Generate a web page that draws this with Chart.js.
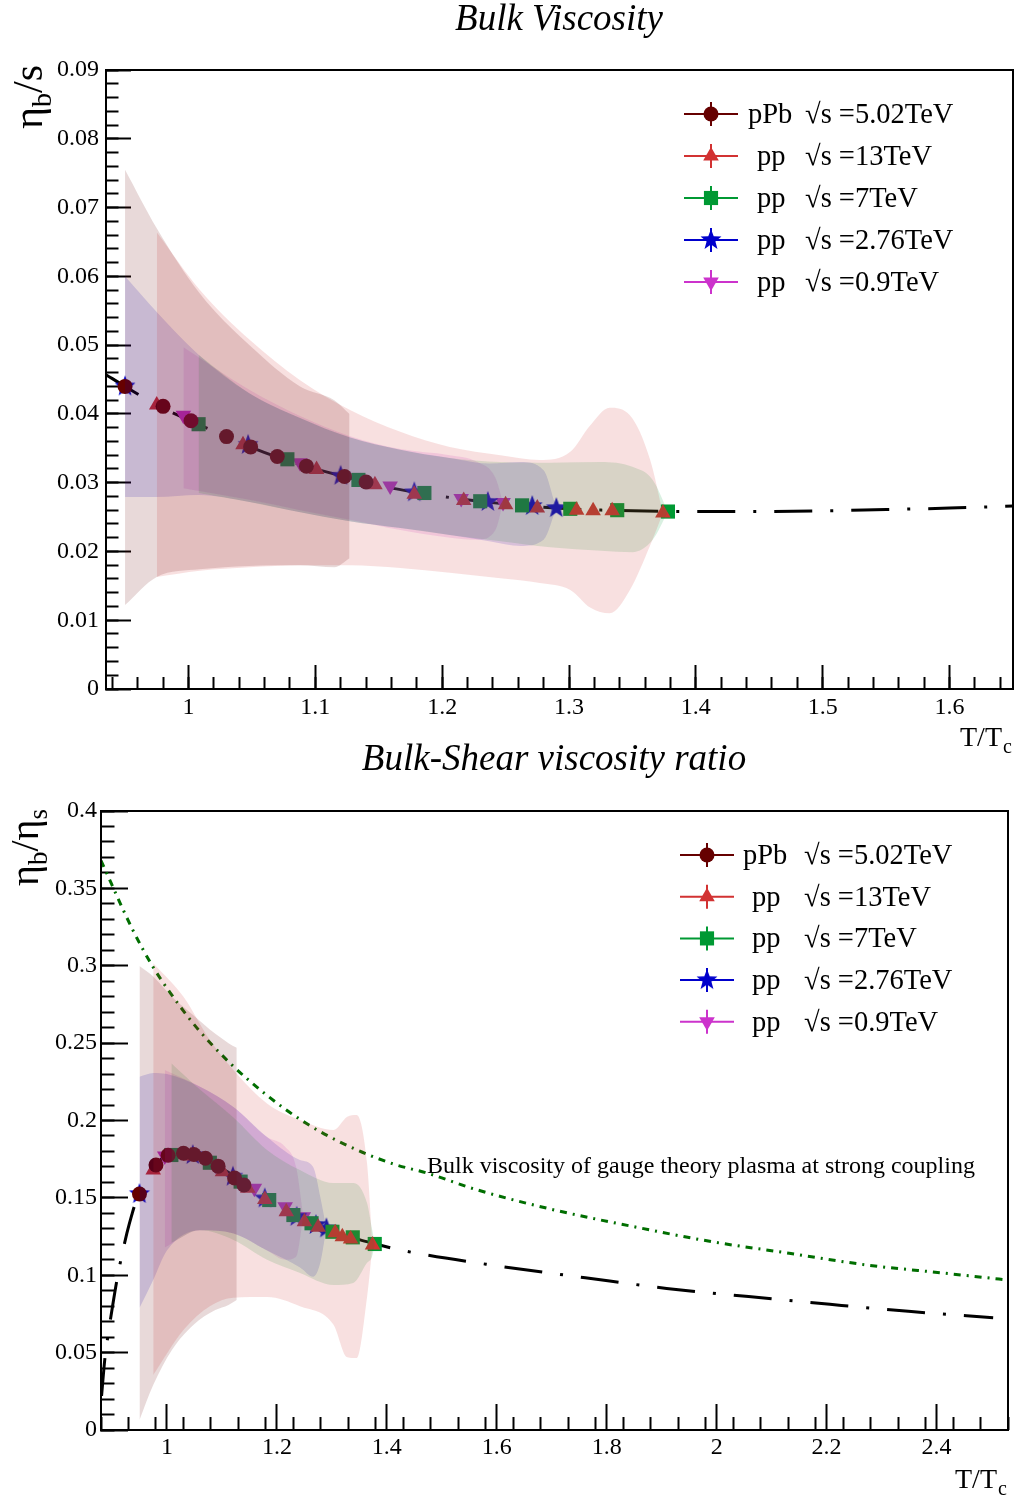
<!DOCTYPE html>
<html>
<head>
<meta charset="utf-8">
<script src="https://cdn.jsdelivr.net/npm/chart.js@4.4.1/dist/chart.umd.min.js"></script>
<style>
  body { margin: 0; background: #fff; overflow: hidden; }
  #wrap { position: relative; width: 1016px; height: 1499px; }
  canvas { position: absolute; left: 0; }
  #c1 { top: 0; }
  #c2 { top: 738px; }
</style>
</head>
<body>
<div id="wrap">
  <canvas id="c1" width="1016" height="760"></canvas>
  <canvas id="c2" width="1016" height="761"></canvas>
</div>
<script>
// legend texts
const seriesNames = ['pPb', 'pp', 'pp', 'pp', 'pp'];
const seriesEnergies = ['√s =5.02TeV', '√s =13TeV', '√s =7TeV', '√s =2.76TeV', '√s =0.9TeV'];

// T/Tc of the points of each data set
const tPPb  = [0.950, 0.980, 1.002, 1.030, 1.049, 1.070, 1.093, 1.123, 1.140];
const tPP13 = [0.975, 1.043, 1.101, 1.147, 1.178, 1.217, 1.250, 1.275, 1.306, 1.319, 1.334, 1.374];
const tPP7  = [1.008, 1.078, 1.134, 1.186, 1.230, 1.263, 1.301, 1.338, 1.378];
const tPP276 = [0.950, 1.047, 1.120, 1.178, 1.236, 1.271, 1.290];
const tPP09 = [0.996, 1.088, 1.159, 1.215, 1.248];

// eta_b/s (top panel)
const bsPPb  = [0.0440, 0.0411, 0.0390, 0.0367, 0.0352, 0.0338, 0.0324, 0.0309, 0.0301];
const bsPP13 = [0.0413, 0.0355, 0.0319, 0.0297, 0.0283, 0.0274, 0.0268, 0.0263, 0.0260, 0.0259, 0.0259, 0.0256];
const bsPP7  = [0.0385, 0.0334, 0.0304, 0.0285, 0.0273, 0.0267, 0.0262, 0.0260, 0.0258];
const bsPP276 = [0.0440, 0.0355, 0.0310, 0.0286, 0.0272, 0.0266, 0.0263];
const bsPP09 = [0.0398, 0.0329, 0.0295, 0.0277, 0.0271];

// eta_b/eta_s (bottom panel)
const rPPb  = [0.1525, 0.1712, 0.1775, 0.1788, 0.1780, 0.1756, 0.1705, 0.1628, 0.1583];
const rPP13 = [0.1680, 0.1770, 0.1669, 0.1562, 0.1490, 0.1411, 0.1346, 0.1310, 0.1275, 0.1249, 0.1235, 0.1195];
const rPP7  = [0.1777, 0.1727, 0.1605, 0.1486, 0.1389, 0.1336, 0.1281, 0.1245, 0.1202];
const rPP276 = [0.1525, 0.1777, 0.1637, 0.1497, 0.1378, 0.1325, 0.1303];
const rPP09 = [0.1771, 0.1712, 0.1562, 0.1443, 0.1378];

// error bands, top panel
const bsBandPPbT  = [0.950, 0.975, 1.009, 1.048, 1.088, 1.115, 1.127];
const bsBandPPbLo = [0.0122, 0.0163, 0.0174, 0.0179, 0.0180, 0.0177, 0.0190];
const bsBandPPbHi = [0.0755, 0.0670, 0.0575, 0.0500, 0.0440, 0.0420, 0.0400];
const bsBand13T  = [0.975, 1.009, 1.048, 1.088, 1.127, 1.167, 1.206, 1.246, 1.277, 1.301, 1.317, 1.332, 1.348, 1.364, 1.374];
const bsBand13Lo = [0.0163, 0.0172, 0.0177, 0.0180, 0.0180, 0.0176, 0.0169, 0.0161, 0.0154, 0.0144, 0.0118, 0.0110, 0.0144, 0.0209, 0.0256];
const bsBand13Hi = [0.0664, 0.0580, 0.0508, 0.0449, 0.0406, 0.0374, 0.0352, 0.0340, 0.0333, 0.0345, 0.0384, 0.0409, 0.0398, 0.0333, 0.0256];
const bsBand7T  = [1.008, 1.048, 1.088, 1.127, 1.167, 1.206, 1.246, 1.285, 1.325, 1.350, 1.366, 1.378];
const bsBand7Lo = [0.0285, 0.0272, 0.0257, 0.0244, 0.0234, 0.0224, 0.0215, 0.0206, 0.0201, 0.0199, 0.0217, 0.0258];
const bsBand7Hi = [0.0486, 0.0430, 0.0394, 0.0366, 0.0348, 0.0336, 0.0330, 0.0329, 0.0330, 0.0323, 0.0304, 0.0258];
const bsBand276T  = [0.950, 0.975, 1.008, 1.048, 1.088, 1.127, 1.167, 1.206, 1.237, 1.262, 1.280, 1.290];
const bsBand276Lo = [0.0279, 0.0279, 0.0282, 0.0272, 0.0257, 0.0244, 0.0234, 0.0224, 0.0215, 0.0208, 0.0217, 0.0263];
const bsBand276Hi = [0.0600, 0.0548, 0.0486, 0.0430, 0.0394, 0.0366, 0.0348, 0.0336, 0.0328, 0.0330, 0.0318, 0.0263];
const bsBand09T  = [0.996, 1.048, 1.088, 1.127, 1.167, 1.206, 1.228, 1.242, 1.248];
const bsBand09Lo = [0.0292, 0.0275, 0.0260, 0.0246, 0.0231, 0.0220, 0.0217, 0.0231, 0.0271];
const bsBand09Hi = [0.0497, 0.0435, 0.0397, 0.0368, 0.0349, 0.0340, 0.0330, 0.0307, 0.0271];

// error bands, bottom panel
const rBandPPbT  = [0.950, 0.975, 1.009, 1.048, 1.088, 1.112, 1.127];
const rBandPPbLo = [0.0065, 0.0290, 0.0517, 0.0679, 0.0775, 0.0808, 0.0840];
const rBandPPbHi = [0.2998, 0.2930, 0.2800, 0.2680, 0.2560, 0.2500, 0.2470];
const rBand13T  = [0.975, 1.030, 1.078, 1.121, 1.182, 1.242, 1.303, 1.328, 1.345, 1.364, 1.374];
const rBand13Lo = [0.0355, 0.0646, 0.0800, 0.0855, 0.0860, 0.0800, 0.0680, 0.0470, 0.0465, 0.0860, 0.1195];
const rBand13Hi = [0.3016, 0.2800, 0.2520, 0.2326, 0.2110, 0.2003, 0.1939, 0.2025, 0.2036, 0.1723, 0.1195];
const rBand7T  = [1.008, 1.060, 1.121, 1.182, 1.242, 1.303, 1.339, 1.364, 1.373, 1.378];
const rBand7Lo = [0.1210, 0.1290, 0.1228, 0.1100, 0.1015, 0.0937, 0.0950, 0.1080, 0.1120, 0.1202];
const rBand7Hi = [0.2370, 0.2200, 0.2020, 0.1810, 0.1680, 0.1596, 0.1596, 0.1467, 0.1300, 0.1202];
const rBand276T  = [0.950, 0.975, 1.000, 1.060, 1.121, 1.182, 1.242, 1.266, 1.279, 1.290];
const rBand276Lo = [0.0788, 0.0970, 0.1160, 0.1290, 0.1270, 0.1160, 0.1050, 0.0990, 0.1080, 0.1303];
const rBand276Hi = [0.2283, 0.2307, 0.2300, 0.2218, 0.2087, 0.1893, 0.1745, 0.1700, 0.1506, 0.1303];
const rBand09T  = [0.996, 1.060, 1.121, 1.182, 1.215, 1.235, 1.248];
const rBand09Lo = [0.1180, 0.1290, 0.1270, 0.1160, 0.1100, 0.1120, 0.1378];
const rBand09Hi = [0.2326, 0.2220, 0.2087, 0.1893, 0.1830, 0.1700, 0.1378];

// fit curves
const bsFitT = [0.935, 0.95, 0.975, 1.0, 1.025, 1.05, 1.075, 1.1, 1.125, 1.15, 1.2, 1.25, 1.3, 1.35, 1.4, 1.45, 1.5, 1.55, 1.6, 1.65];
const bsFit  = [0.0457, 0.0440, 0.0413, 0.0391, 0.0371, 0.0351, 0.0334, 0.0320, 0.0308, 0.0296, 0.0280, 0.0269, 0.0262, 0.0259, 0.0258, 0.0258, 0.0259, 0.0261, 0.0263, 0.0266];
const rFitT = [0.881, 0.887, 0.894, 0.901, 0.909, 0.918, 0.927, 0.936, 0.945, 0.951, 0.966, 0.980, 1.0, 1.03, 1.05, 1.1, 1.15, 1.2, 1.25, 1.3, 1.35, 1.38, 1.424, 1.612, 1.761, 1.909, 2.058, 2.206, 2.354, 2.503];
const rFit  = [0.022, 0.046, 0.064, 0.080, 0.097, 0.113, 0.127, 0.139, 0.149, 0.1525, 0.1626, 0.1712, 0.1775, 0.1788, 0.1777, 0.1690, 0.1580, 0.1470, 0.1375, 0.1290, 0.1230, 0.1202, 0.1163, 0.1055, 0.0984, 0.0915, 0.0862, 0.0812, 0.0765, 0.0726];
// gauge theory plasma at strong coupling
const rAdsT = [0.880, 0.938, 0.975, 1.005, 1.054, 1.115, 1.181, 1.254, 1.333, 1.411, 1.473, 1.566, 1.707, 1.849, 1.991, 2.132, 2.274, 2.416, 2.530];
const rAds  = [0.368, 0.323, 0.299, 0.283, 0.260, 0.237, 0.2165, 0.198, 0.183, 0.172, 0.166, 0.155, 0.142, 0.1314, 0.1217, 0.1142, 0.1066, 0.1013, 0.0969];
const noteText = 'Bulk viscosity of gauge theory plasma at strong coupling';

const serif = "'Liberation Serif', 'Times New Roman', serif";
const cols = ['rgb(102,0,0)', 'rgb(210,50,50)', 'rgb(0,153,51)', 'rgb(0,0,204)', 'rgb(204,51,204)'];
const fills = ['rgba(102,0,0,0.15)', 'rgba(210,50,50,0.15)', 'rgba(0,153,51,0.15)', 'rgba(0,0,204,0.15)', 'rgba(204,51,204,0.15)'];

function starCanvas(color, R) {
  const c = document.createElement('canvas');
  c.width = c.height = 2 * R + 2;
  const g = c.getContext('2d');
  g.fillStyle = color;
  g.beginPath();
  for (let i = 0; i < 10; i++) {
    const r = i % 2 ? R * 0.42 : R;
    const a = -Math.PI / 2 + i * Math.PI / 5;
    const px = R + 1 + r * Math.cos(a), py = R + 1 + r * Math.sin(a);
    if (i) g.lineTo(px, py); else g.moveTo(px, py);
  }
  g.closePath();
  g.fill();
  return c;
}
const star = starCanvas(cols[3], 11);

// marker look of each data set, in legend order
const markers = [
  { style: 'circle', r: 7.5, rot: 0 },
  { style: 'triangle', r: 9, rot: 0 },
  { style: 'rect', r: 10, rot: 0 },
  { style: star, r: 10, rot: 0 },
  { style: 'triangle', r: 9, rot: 180 }
];

const pts = (t, v) => t.map((x, i) => ({ x: x, y: v[i] }));

function drawMarker(ctx, i, x, y) {
  const m = markers[i];
  if (typeof m.style !== 'string') {
    ctx.drawImage(m.style, x - m.style.width / 2, y - m.style.height / 2);
    return;
  }
  ctx.fillStyle = cols[i];
  ctx.beginPath();
  if (m.style === 'circle') ctx.arc(x, y, m.r, 0, 2 * Math.PI);
  else if (m.style === 'rect') { const h = m.r * Math.SQRT1_2; ctx.rect(x - h, y - h, 2 * h, 2 * h); }
  else {
    const s = m.rot ? -1 : 1;
    ctx.moveTo(x, y - s * m.r);
    ctx.lineTo(x + m.r * 0.866, y + s * m.r / 2);
    ctx.lineTo(x - m.r * 0.866, y + s * m.r / 2);
    ctx.closePath();
  }
  ctx.fill();
}

function makeDecor(D) {
  return {
    id: 'decor',
    afterDraw(chart) {
      const { ctx, chartArea: a } = chart;
      ctx.save();
      ctx.strokeStyle = '#000';
      ctx.lineWidth = 2;
      ctx.strokeRect(a.left, a.top, a.right - a.left, a.bottom - a.top);
      ctx.fillStyle = '#000';
      ctx.textBaseline = 'alphabetic';
      // title
      ctx.font = 'italic 37px ' + serif;
      ctx.textAlign = 'center';
      ctx.fillText(D.title, D.titleX, D.titleY);
      ctx.textAlign = 'left';
      // x title
      ctx.font = '28px ' + serif;
      ctx.fillText('T/T', D.xtX, D.xtY);
      const w = ctx.measureText('T/T').width;
      ctx.font = '20px ' + serif;
      ctx.fillText('c', D.xtX + w + 1, D.xtY + 7);
      // y title
      ctx.save();
      ctx.translate(D.ytX, D.ytY);
      ctx.rotate(-Math.PI / 2);
      let cx = 0;
      D.ytParts.forEach(([t, size, dy]) => {
        ctx.font = size + 'px ' + serif;
        ctx.fillText(t, cx, dy);
        cx += ctx.measureText(t).width;
      });
      ctx.restore();
      // legend
      for (let i = 0; i < seriesNames.length; i++) {
        const y = D.legY + i * D.legDy;
        const xc = (D.legX0 + D.legX1) / 2;
        ctx.strokeStyle = cols[i];
        ctx.lineWidth = 2;
        ctx.beginPath();
        ctx.moveTo(D.legX0, y); ctx.lineTo(D.legX1, y);
        ctx.moveTo(xc, y - 12); ctx.lineTo(xc, y + 12);
        ctx.stroke();
        drawMarker(ctx, i, xc, y);
        ctx.fillStyle = '#000';
        ctx.font = '28.5px ' + serif;
        ctx.fillText(seriesNames[i], i === 0 ? D.legName : D.legName + 9, y + 9);
        ctx.fillText(seriesEnergies[i], D.legE, y + 9);
      }
      if (D.note) {
        ctx.font = '24px ' + serif;
        ctx.fillText(D.note, D.noteX, D.noteY);
      }
      ctx.restore();
    }
  };
}

function buildChart(id, P) {
  const ds = [];
  P.lines.forEach(l => ds.push({
    data: pts(l.t, l.v), borderColor: l.color, borderWidth: 3, borderDash: l.dash,
    pointRadius: 0, fill: false, cubicInterpolationMode: 'monotone', order: 3
  }));
  P.series.forEach((s, i) => ds.push({
    data: pts(s.t, s.v), showLine: false, pointStyle: markers[i].style, pointRadius: markers[i].r,
    pointRotation: markers[i].rot, pointBackgroundColor: cols[i], pointBorderWidth: 0, order: 2
  }));
  P.bands.forEach(b => {
    ds.push({ data: pts(b.t, b.lo), borderColor: 'rgba(0,0,0,0)', pointRadius: 0, fill: false,
      cubicInterpolationMode: 'monotone', order: 1 });
    ds.push({ data: pts(b.t, b.hi), borderColor: 'rgba(0,0,0,0)', backgroundColor: fills[b.i], pointRadius: 0,
      fill: '-1', cubicInterpolationMode: 'monotone', order: 1 });
  });
  const tickFont = { family: serif, size: 24 };
  const fmt = v => String(Math.round(v * 1000) / 1000);
  const noPad = s => { s.paddingLeft = 0; s.paddingRight = 0; s.paddingTop = 0; s.paddingBottom = 0; };
  new Chart(document.getElementById(id), {
    type: 'line',
    data: { datasets: ds },
    options: {
      responsive: false,
      animation: false,
      events: [],
      layout: { autoPadding: false, padding: { left: 0, top: P.padTop, right: P.padRight, bottom: 0 } },
      plugins: { legend: { display: false }, tooltip: { enabled: false }, title: { display: false } },
      scales: {
        x: {
          type: 'linear', position: 'bottom', min: P.xMin, max: P.xMax, weight: 1,
          ticks: { stepSize: P.xStep, includeBounds: false, autoSkip: false, maxRotation: 0,
            padding: P.xPad, color: '#000', font: tickFont, callback: fmt },
          grid: { drawOnChartArea: false, tickLength: -P.xTick, tickWidth: 2, tickColor: '#000' },
          border: { display: true, color: '#000', width: 2 },
          afterFit: s => { s.height = P.xH; noPad(s); }
        },
        xMinor: {
          type: 'linear', position: 'bottom', min: P.xMin, max: P.xMax, weight: 0,
          ticks: { display: false, stepSize: P.xMinor, includeBounds: false },
          grid: { drawOnChartArea: false, tickLength: -P.xTick / 2, tickWidth: 2, tickColor: '#000' },
          border: { display: false },
          afterFit: s => { s.height = 0; noPad(s); }
        },
        y: {
          type: 'linear', position: 'left', min: 0, max: P.yMax, weight: 1,
          ticks: { stepSize: P.yStep, includeBounds: false, padding: P.yPad, color: '#000', font: tickFont, callback: fmt },
          grid: { drawOnChartArea: false, tickLength: -P.yTick, tickWidth: 2, tickColor: '#000' },
          border: { display: true, color: '#000', width: 2 },
          afterFit: s => { s.width = P.yW; noPad(s); }
        },
        yMinor: {
          type: 'linear', position: 'left', min: 0, max: P.yMax, weight: 0,
          ticks: { display: false, stepSize: P.yMinor, includeBounds: false },
          grid: { drawOnChartArea: false, tickLength: -P.yTick / 2, tickWidth: 2, tickColor: '#000' },
          border: { display: false },
          afterFit: s => { s.width = 0; noPad(s); }
        }
      }
    },
    plugins: [makeDecor(P.decor)]
  });
}

// Bulk Viscosity
buildChart('c1', {
  xMin: 0.935, xMax: 1.65, xStep: 0.1, xMinor: 0.02, yMax: 0.09, yStep: 0.01, yMinor: 0.002,
  padTop: 70, padRight: 3, xH: 71, yW: 106, xTick: 24, yTick: 25, xPad: 28, yPad: 32,
  lines: [{ t: bsFitT, v: bsFit, color: '#000', dash: [38, 18, 3, 18] }],
  series: [
    { t: tPPb, v: bsPPb }, { t: tPP13, v: bsPP13 }, { t: tPP7, v: bsPP7 },
    { t: tPP276, v: bsPP276 }, { t: tPP09, v: bsPP09 }
  ],
  bands: [
    { i: 0, t: bsBandPPbT, lo: bsBandPPbLo, hi: bsBandPPbHi },
    { i: 1, t: bsBand13T, lo: bsBand13Lo, hi: bsBand13Hi },
    { i: 2, t: bsBand7T, lo: bsBand7Lo, hi: bsBand7Hi },
    { i: 3, t: bsBand276T, lo: bsBand276Lo, hi: bsBand276Hi },
    { i: 4, t: bsBand09T, lo: bsBand09Lo, hi: bsBand09Hi }
  ],
  decor: {
    title: 'Bulk Viscosity', titleX: 559, titleY: 30,
    xtX: 960, xtY: 746,
    ytX: 42, ytY: 129, ytParts: [['η', 42, 0], ['b', 28, 9], ['/s', 42, 0]],
    legY: 114, legDy: 42, legX0: 684, legX1: 738, legName: 748, legE: 805
  }
});

// Bulk-Shear viscosity ratio
buildChart('c2', {
  xMin: 0.88, xMax: 2.53, xStep: 0.2, xMinor: 0.05, yMax: 0.4, yStep: 0.05, yMinor: 0.01,
  padTop: 73, padRight: 8, xH: 69, yW: 101, xTick: 26, yTick: 27, xPad: 29, yPad: 31,
  lines: [
    { t: rFitT, v: rFit, color: '#000', dash: [38, 18, 3, 18] },
    { t: rAdsT, v: rAds, color: 'rgb(0,110,0)', dash: [7, 6, 2, 6] }
  ],
  series: [
    { t: tPPb, v: rPPb }, { t: tPP13, v: rPP13 }, { t: tPP7, v: rPP7 },
    { t: tPP276, v: rPP276 }, { t: tPP09, v: rPP09 }
  ],
  bands: [
    { i: 0, t: rBandPPbT, lo: rBandPPbLo, hi: rBandPPbHi },
    { i: 1, t: rBand13T, lo: rBand13Lo, hi: rBand13Hi },
    { i: 2, t: rBand7T, lo: rBand7Lo, hi: rBand7Hi },
    { i: 3, t: rBand276T, lo: rBand276Lo, hi: rBand276Hi },
    { i: 4, t: rBand09T, lo: rBand09Lo, hi: rBand09Hi }
  ],
  decor: {
    title: 'Bulk-Shear viscosity ratio', titleX: 554, titleY: 32,
    xtX: 955, xtY: 750,
    ytX: 38, ytY: 148, ytParts: [['η', 40, 0], ['b', 27, 9], ['/η', 40, 0], ['s', 27, 9]],
    legY: 117, legDy: 41.7, legX0: 680, legX1: 734, legName: 743, legE: 804,
    note: noteText, noteX: 427, noteY: 435
  }
});
</script>
</body>
</html>
